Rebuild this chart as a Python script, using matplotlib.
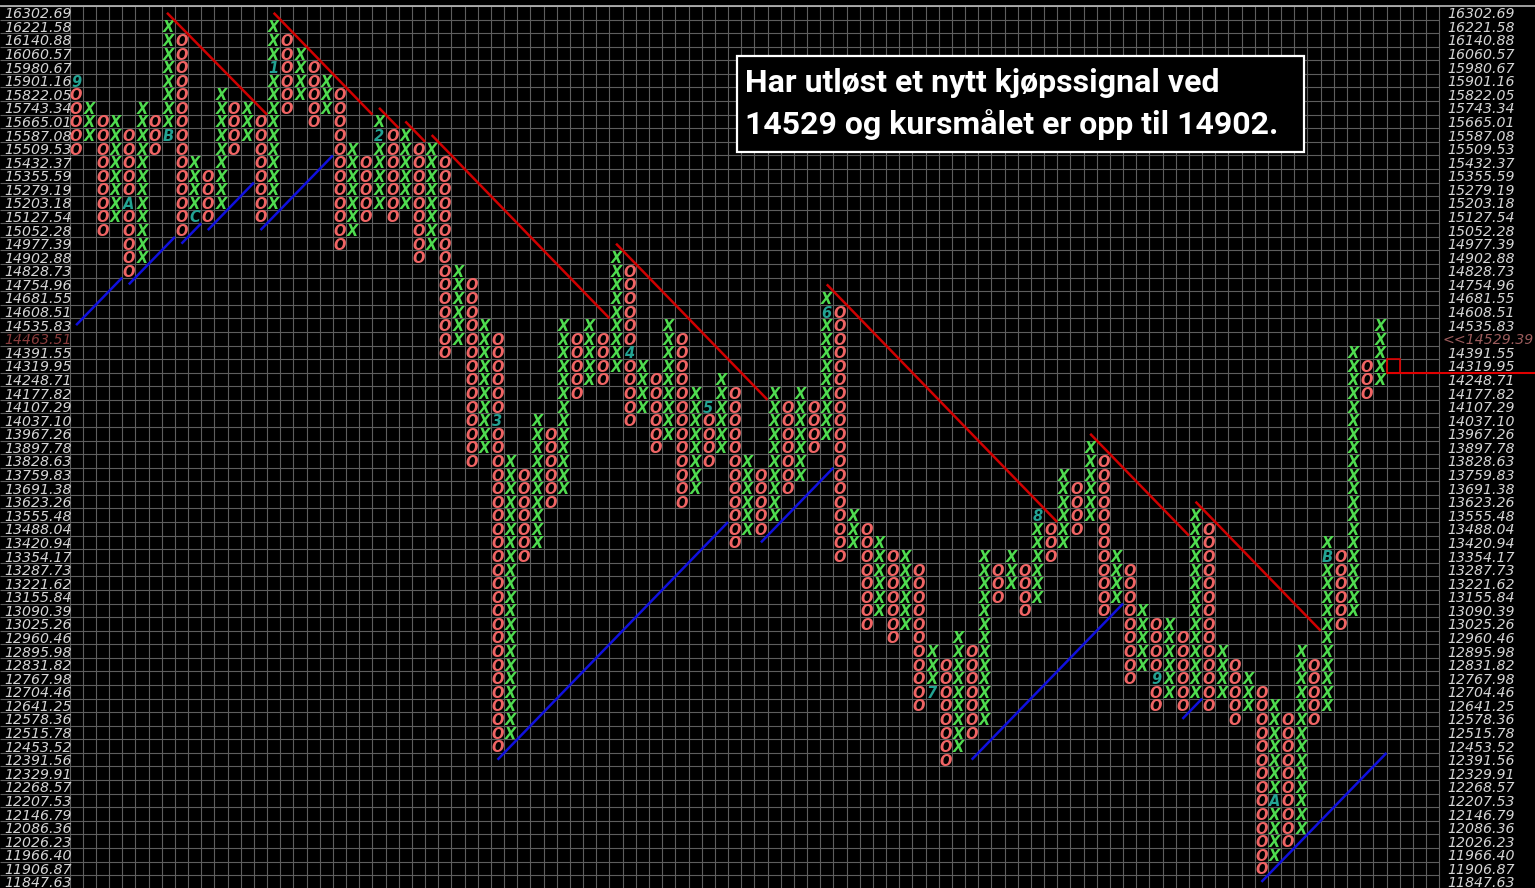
import matplotlib
matplotlib.use("Agg")
import matplotlib.pyplot as plt
import numpy as np
from matplotlib.patches import Rectangle

W, H = 1535, 888
# pixel calibration of the point & figure grid
X0, DX = 76.1, 13.17    # centre of column 0 and column width (px)
Y0, DY = 12.8, 13.58    # centre of the top row and row height (px)

# price levels, top row first
price_levels = [
    16302.69, 16221.58, 16140.88, 16060.57, 15980.67, 15901.16, 15822.05, 15743.34,
    15665.01, 15587.08, 15509.53, 15432.37, 15355.59, 15279.19, 15203.18, 15127.54,
    15052.28, 14977.39, 14902.88, 14828.73, 14754.96, 14681.55, 14608.51, 14535.83,
    14463.51, 14391.55, 14319.95, 14248.71, 14177.82, 14107.29, 14037.10, 13967.26,
    13897.78, 13828.63, 13759.83, 13691.38, 13623.26, 13555.48, 13488.04, 13420.94,
    13354.17, 13287.73, 13221.62, 13155.84, 13090.39, 13025.26, 12960.46, 12895.98,
    12831.82, 12767.98, 12704.46, 12641.25, 12578.36, 12515.78, 12453.52, 12391.56,
    12329.91, 12268.57, 12207.53, 12146.79, 12086.36, 12026.23, 11966.40, 11906.87,
    11847.63,
]
last_price_row = 40          # row index (from bottom) of the highlighted level
last_price_label = "<<14529.39"

# columns alternate O / X starting with O; box rows counted from the bottom level
col_low = [
    54, 55, 48, 49, 45, 46, 54, 55, 48, 49, 49, 50, 54, 55, 49, 50, 57, 58, 56, 57,
    47, 48, 49, 50, 49, 50, 46, 47, 39, 40, 31, 32, 10, 11, 24, 25, 28, 29, 36, 37,
    37, 38, 34, 35, 32, 33, 28, 29, 31, 32, 25, 26, 26, 27, 29, 30, 32, 33, 24, 25,
    19, 20, 18, 19, 13, 14, 9, 10, 11, 12, 21, 22, 20, 21, 24, 25, 26, 27, 20, 21,
    15, 16, 13, 14, 13, 14, 13, 14, 12, 13, 1, 2, 3, 4, 12, 13, 19, 20, 36, 37,
]
col_high = [
    59, 57, 56, 56, 55, 57, 56, 63, 62, 53, 52, 58, 57, 57, 56, 63, 62, 61, 60, 59,
    58, 54, 53, 56, 55, 55, 54, 54, 53, 45, 44, 41, 40, 31, 30, 34, 33, 41, 40, 41,
    40, 46, 45, 38, 37, 41, 40, 36, 35, 37, 36, 31, 30, 36, 35, 36, 35, 43, 42, 27,
    26, 25, 24, 24, 23, 17, 16, 18, 17, 24, 23, 24, 23, 27, 26, 30, 29, 32, 31, 24,
    23, 20, 19, 19, 18, 27, 26, 17, 16, 15, 14, 13, 12, 17, 16, 25, 24, 39, 38, 41,
]

# month markers that replace a box
month_col = [0, 4, 7, 9, 15, 23, 32, 42, 48, 57, 65, 73, 82, 91, 95]
month_row = [59, 50, 55, 49, 60, 55, 34, 39, 35, 42, 14, 27, 15, 6, 24]
month_txt = ["9", "A", "B", "C", "1", "2", "3", "4", "5", "6", "7", "8", "9", "A", "B"]

# trend lines (column, row) -> (column, row)
red_lines = [
    (6.9, 64.0, 14.5, 56.5), (15.0, 64.0, 22.5, 56.5), (23.0, 57.0, 24.5, 55.5),
    (25.0, 56.0, 26.5, 54.5), (27.0, 55.0, 40.5, 41.5), (41.0, 47.0, 52.5, 35.5),
    (57.0, 44.0, 74.5, 26.5), (77.0, 33.0, 84.5, 25.5), (85.0, 28.0, 94.5, 18.5),
]
blue_lines = [
    (0.0, 41.0, 3.5, 44.5), (4.0, 44.0, 7.5, 47.5), (8.0, 47.0, 9.5, 48.5),
    (10.0, 48.0, 13.5, 51.5), (14.0, 48.0, 19.5, 53.5), (32.0, 9.0, 49.5, 26.5),
    (52.0, 25.0, 57.5, 30.5), (68.0, 9.0, 79.5, 20.5), (84.0, 12.0, 85.5, 13.5),
    (90.0, 0.0, 99.5, 9.5),
]

signal_col, signal_row = 100, 38
n_cols_grid = 104
caption = ["Har utløst et nytt kjøpssignal ved", "14529 og kursmålet er opp til 14902."]

top = len(price_levels) - 1


def px2x(px):
    return (px - X0) / DX


def py2y(py):
    return top - (py - Y0) / DY


fig = plt.figure(figsize=(W / 100, H / 100), dpi=100, facecolor='black')
ax = fig.add_axes([0, 0, 1, 1])
ax.set_facecolor('black')
ax.set_xlim(px2x(0), px2x(W))
ax.set_ylim(py2y(H), py2y(0))
ax.axis('off')

grid_c = '#5e5e5e'
ax.vlines(np.arange(-0.5, n_cols_grid), -0.6, top + 0.5, color=grid_c, lw=0.8, zorder=1)
ax.hlines(np.arange(-0.5, top + 1), px2x(0), n_cols_grid - 0.5, color=grid_c, lw=0.8, zorder=1)
ax.hlines(top + 0.5, px2x(0), px2x(W), color='#bbbbbb', lw=1.2, zorder=1)

# price labels on both sides
for i, v in enumerate(price_levels):
    k = top - i
    lab = f"{v:.2f}"
    col = '#d6d6d6' if k != last_price_row else '#8a3d3d'
    ax.text(px2x(4), k, lab, color=col, fontsize=10.2, style='italic',
            ha='left', va='center_baseline', zorder=4)
    rlab = lab if k != last_price_row else last_price_label
    rx = 1447 if k != last_price_row else 1442
    rcol = '#d6d6d6' if k != last_price_row else '#9c5c5c'
    ax.text(px2x(rx), k, rlab, color=rcol, fontsize=10.2, style='italic',
            ha='left', va='center_baseline', zorder=4)

# X / O boxes
months = {(c, r): t for c, r, t in zip(month_col, month_row, month_txt)}
for c, (lo, hi) in enumerate(zip(col_low, col_high)):
    kind = 'O' if c % 2 == 0 else 'X'
    color = '#f06464' if kind == 'O' else '#4fdc4f'
    for k in range(lo, hi + 1):
        if (c, k) in months:
            ax.text(c, k, months[(c, k)], color='#23a393', fontsize=10.5, style='italic',
                    fontweight='bold', ha='center', va='center_baseline', zorder=3)
        else:
            ax.text(c, k, kind, color=color, fontsize=10.5, style='italic',
                    fontweight='bold', ha='center', va='center_baseline', zorder=3)

for x0, y0, x1, y1 in red_lines:
    ax.plot([x0, x1], [y0, y1], color='#d00000', lw=1.8, zorder=5, solid_capstyle='butt')
for x0, y0, x1, y1 in blue_lines:
    ax.plot([x0, x1], [y0, y1], color='#1010dd', lw=1.8, zorder=5, solid_capstyle='butt')

# signal box and last price line
ax.add_patch(Rectangle((signal_col - 0.5, signal_row - 0.5), 1, 1, fill=False,
                       edgecolor='#e00000', lw=1.2, zorder=5))
ax.hlines(signal_row - 0.5, signal_col - 0.5, px2x(W), color='#e00000', lw=1.5, zorder=5)

# caption box
fig.patches.append(Rectangle((737 / W, 1 - 152 / H), (1304 - 737) / W, (152 - 56) / H,
                             transform=fig.transFigure, facecolor='black',
                             edgecolor='white', lw=1.6, zorder=6))
fig.text(745 / W, 1 - 92 / H, caption[0], color='white', fontsize=23, fontweight='bold',
         family='Roboto', ha='left', va='baseline', zorder=7)
fig.text(745 / W, 1 - 134 / H, caption[1], color='white', fontsize=23, fontweight='bold',
         family='Roboto', ha='left', va='baseline', zorder=7)

fig.savefig('out.png', dpi=100, facecolor='black')
